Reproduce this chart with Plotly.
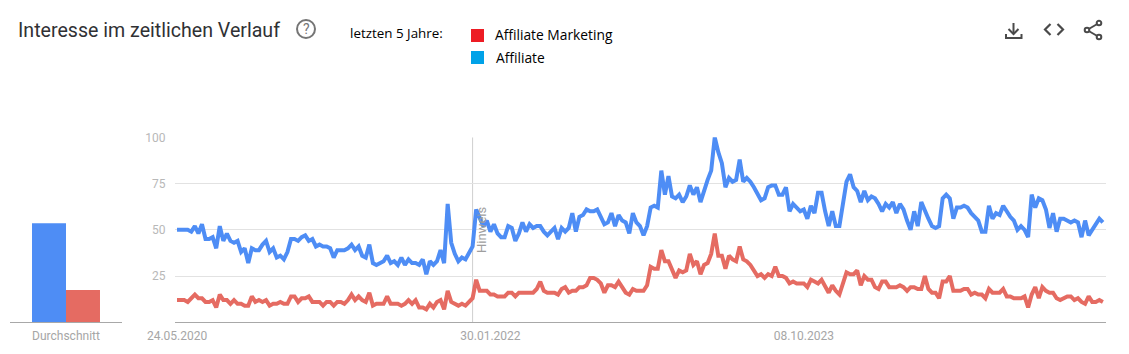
import pandas as pd
import plotly.graph_objects as go

W, H = 1129, 354

chart_title = "Interesse im zeitlichen Verlauf"
period_label = "letzten 5 Jahre:"
series_names = ["Affiliate Marketing", "Affiliate"]
average_label = "Durchschnitt"
note_label = "Hinweis"
tick_dates = ["2020-05-24", "2022-01-30", "2023-10-08"]
tick_labels = ["24.05.2020", "30.01.2022", "08.10.2023"]
y_ticks = [25, 50, 75, 100]
note_date = "2021-12-26"

affiliate = [
    50, 50, 50, 50, 49, 52, 48, 53, 45, 45, 46, 40, 52, 44, 48, 44, 43, 44, 38, 40,
    32, 40, 39, 39, 42, 44, 38, 40, 35, 36, 34, 38, 45, 45, 44, 46, 47, 44, 45, 41,
    42, 41, 41, 40, 35, 39, 39, 39, 40, 42, 39, 41, 36, 35, 42, 32, 31, 32, 33, 36,
    32, 33, 31, 35, 31, 34, 32, 32, 31, 34, 26, 33, 31, 33, 39, 32, 64, 43, 37, 33,
    35, 34, 37, 41, 61, 57, 52, 55, 49, 53, 48, 46, 46, 52, 51, 44, 48, 54, 49, 53,
    51, 52, 52, 49, 47, 49, 51, 45, 51, 49, 51, 59, 49, 57, 58, 61, 60, 60, 61, 57,
    53, 54, 59, 52, 58, 55, 54, 48, 59, 54, 52, 47, 52, 62, 63, 62, 82, 69, 79, 68,
    67, 69, 65, 68, 74, 69, 73, 65, 72, 77, 82, 100, 92, 86, 73, 78, 76, 77, 88, 76,
    78, 76, 73, 70, 66, 67, 73, 74, 74, 69, 69, 73, 60, 64, 62, 60, 61, 56, 63, 59,
    70, 70, 60, 52, 60, 52, 52, 65, 76, 80, 73, 71, 65, 71, 66, 68, 67, 64, 60, 64,
    62, 65, 59, 64, 61, 55, 50, 60, 52, 65, 60, 56, 52, 51, 52, 67, 69, 67, 56, 62,
    62, 63, 62, 59, 57, 55, 49, 49, 63, 56, 59, 58, 63, 60, 57, 55, 50, 52, 50, 46,
    69, 62, 67, 66, 61, 51, 59, 49, 56, 56, 55, 54, 55, 54, 46, 55, 47, 50, 54, 56,
    54,
]
affiliate_marketing = [
    12, 12, 12, 11, 13, 15, 13, 13, 11, 11, 12, 8, 15, 12, 12, 10, 12, 10, 10, 9,
    9, 14, 11, 12, 11, 12, 9, 10, 10, 11, 10, 10, 14, 14, 11, 13, 13, 14, 11, 11,
    11, 9, 11, 11, 9, 11, 11, 10, 12, 15, 12, 14, 12, 11, 16, 9, 10, 10, 10, 14,
    10, 10, 10, 9, 10, 12, 10, 12, 8, 8, 7, 10, 8, 11, 12, 7, 17, 11, 10, 9,
    10, 9, 11, 13, 23, 17, 17, 17, 15, 15, 14, 14, 14, 16, 16, 14, 16, 16, 16, 16,
    16, 18, 22, 17, 16, 16, 16, 15, 18, 19, 16, 17, 17, 19, 19, 20, 24, 24, 23, 21,
    16, 20, 20, 19, 22, 19, 16, 15, 18, 17, 17, 17, 20, 30, 29, 29, 39, 33, 33, 28,
    24, 28, 27, 28, 37, 31, 33, 26, 31, 32, 37, 48, 36, 36, 29, 36, 34, 33, 41, 34,
    33, 31, 28, 25, 26, 24, 26, 25, 30, 25, 25, 24, 21, 22, 21, 21, 21, 19, 23, 22,
    21, 23, 19, 16, 20, 17, 15, 21, 27, 26, 26, 28, 20, 25, 23, 23, 19, 18, 22, 22,
    19, 19, 19, 20, 19, 17, 19, 19, 18, 18, 25, 18, 16, 16, 13, 22, 22, 25, 17, 17,
    17, 18, 18, 15, 16, 15, 15, 13, 18, 16, 16, 16, 18, 14, 14, 13, 13, 13, 14, 8,
    15, 19, 13, 19, 17, 16, 16, 13, 12, 13, 14, 14, 12, 13, 11, 10, 14, 11, 11, 12,
    11,
]
average_values = [53.5, 17.5]

BLUE = "#4e8df5"
RED = "#e56b62"
GREY = "#a6a6a6"

weeks = pd.date_range("2020-05-24", periods=len(affiliate), freq="7D")
weeks_red = pd.date_range("2020-05-24", periods=len(affiliate_marketing), freq="7D")


def px(x):
    return x / W


def py(y):
    return 1 - y / H


fig = go.Figure()
fig.add_trace(go.Scatter(x=weeks, y=affiliate, mode="lines", cliponaxis=False,
                         line=dict(color=BLUE, width=4), hoverinfo="skip"))
fig.add_trace(go.Scatter(x=weeks_red, y=affiliate_marketing, mode="lines", cliponaxis=False,
                         line=dict(color=RED, width=4), hoverinfo="skip"))
fig.add_trace(go.Bar(x=[average_label], y=[average_values[0]], marker=dict(color=BLUE, line_width=0),
                     xaxis="x2", yaxis="y2", hoverinfo="skip"))
fig.add_trace(go.Bar(x=[average_label], y=[average_values[1]], marker=dict(color=RED, line_width=0),
                     xaxis="x2", yaxis="y2", hoverinfo="skip"))

shapes = [
    dict(type="line", xref="x", yref="y", x0=note_date, x1=note_date, y0=0, y1=100,
         line=dict(color="#cfcfcf", width=1), layer="below"),
    dict(type="circle", xref="paper", yref="paper", x0=px(297), x1=px(315), y0=py(38), y1=py(20),
         line=dict(color="#757575", width=2)),
    dict(type="rect", xref="paper", yref="paper", x0=px(471), x1=px(484), y0=py(42), y1=py(29),
         line_width=0, fillcolor="#ed1c24"),
    dict(type="rect", xref="paper", yref="paper", x0=px(471), x1=px(484), y0=py(64), y1=py(51),
         line_width=0, fillcolor="#00a2e8"),
]


def icon(points, width=2, color="#4a4a4a"):
    d = "M " + " L ".join(f"{px(a):.5f},{py(b):.5f}" for a, b in points)
    shapes.append(dict(type="path", xref="paper", yref="paper", path=d,
                       line=dict(color=color, width=width)))


icon([(1013.5, 23), (1013.5, 33)])
icon([(1008.5, 29), (1013.5, 34), (1018.5, 29)])
icon([(1006, 34), (1006, 38), (1021.5, 38), (1021.5, 34)])
icon([(1050.5, 24), (1045, 29.5), (1050.5, 35)], 2.2)
icon([(1057.5, 24), (1063, 29.5), (1057.5, 35)], 2.2)
icon([(1087, 30), (1099, 23)])
icon([(1087, 30), (1099, 37)])
for cx, cy in [(1087, 30), (1099, 23), (1099, 37)]:
    shapes.append(dict(type="circle", xref="paper", yref="paper",
                       x0=px(cx - 2.3), x1=px(cx + 2.3), y0=py(cy + 2.3), y1=py(cy - 2.3),
                       fillcolor="white", line=dict(color="#4a4a4a", width=2)))


def text(x, y, s, size, color, family="Roboto", anchor="left", angle=0):
    return dict(xref="paper", yref="paper", x=px(x), y=py(y), text=s, showarrow=False,
                xanchor=anchor, yanchor="middle", textangle=angle,
                font=dict(family=family, size=size, color=color))


annotations = [
    text(16, 30, chart_title, 19.6, "#303134"),
    text(306, 29, "?", 14, "#757575", anchor="center"),
    text(348, 33, period_label, 13.4, "#000000", family="Open Sans"),
    text(493, 34, series_names[0], 13.8, "#000000", family="Open Sans"),
    text(494, 58, series_names[1], 13.8, "#000000", family="Open Sans"),
    text(481, 230, note_label, 13, "#9e9e9e", anchor="center", angle=-90),
]

fig.update_layout(
    width=W, height=H, autosize=False,
    margin=dict(l=0, r=0, t=0, b=0),
    paper_bgcolor="white", plot_bgcolor="white",
    showlegend=False, barmode="group", bargap=0.393, bargroupgap=0,
    shapes=shapes, annotations=annotations,
    font=dict(family="Roboto", size=12, color=GREY),
    xaxis=dict(domain=[px(175), px(1105.7)], type="date", automargin=False,
               range=[weeks[0] - pd.Timedelta(days=4), weeks[-1] + pd.Timedelta(days=5.5)],
               tickmode="array", tickvals=tick_dates, ticktext=tick_labels,
               showgrid=False, zeroline=False, showline=True, linecolor="#a8a8a8", linewidth=1,
               ticks="outside", ticklen=2, tickcolor="rgba(0,0,0,0)",
               tickfont=dict(family="Roboto", size=12, color=GREY)),
    yaxis=dict(domain=[py(322.3), py(137.3)], range=[0, 100], automargin=False,
               tickmode="array", tickvals=y_ticks,
               showgrid=True, gridcolor="#e2e2e2", gridwidth=1, zeroline=False,
               ticks="outside", ticklen=6, tickcolor="rgba(0,0,0,0)",
               tickfont=dict(family="Roboto", size=12, color="#b8b8b8")),
    xaxis2=dict(domain=[px(10), px(122)], anchor="y2", type="category", automargin=False,
                showgrid=False, zeroline=False, showline=True, linecolor="#a8a8a8", linewidth=1,
                ticks="outside", ticklen=2, tickcolor="rgba(0,0,0,0)",
                tickfont=dict(family="Roboto", size=12, color=GREY)),
    yaxis2=dict(domain=[py(322.3), py(137.3)], anchor="x2", range=[0, 100], visible=False,
                automargin=False),
)

fig.write_html("out.html", config={"displayModeBar": False},
               post_script="document.body.style.margin='0';document.body.style.overflow='hidden';")
